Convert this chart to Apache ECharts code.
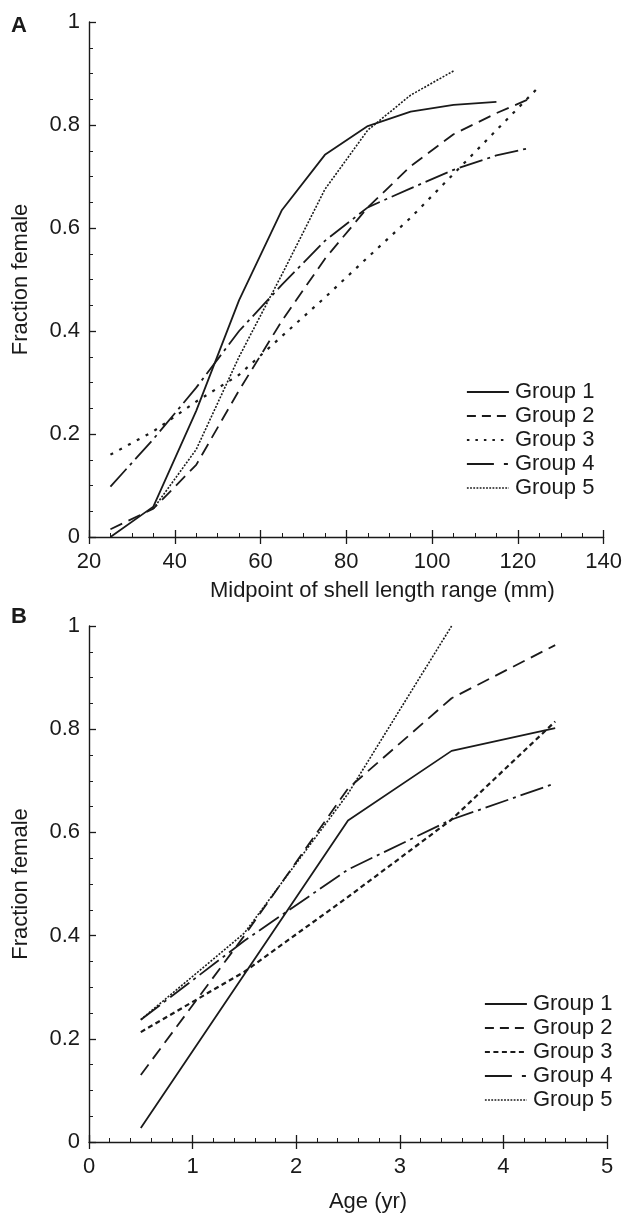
<!DOCTYPE html>
<html>
<head>
<meta charset="utf-8">
<script src="https://cdn.jsdelivr.net/npm/echarts@6/dist/echarts.min.js"></script>
<style>html,body{margin:0;padding:0;background:#fff;}#c{width:625px;height:1214px;}</style>
</head>
<body>
<div id="c"></div>
<script>
// ---------- Data ----------
const groupNames = ['Group 1', 'Group 2', 'Group 3', 'Group 4', 'Group 5'];

// Panel A: fraction female vs midpoint of shell length range (mm)
const a_g1_x = [25, 35, 45, 55, 65, 75, 85, 95, 105, 115];
const a_g1_y = [0.0, 0.059, 0.245, 0.46, 0.635, 0.742, 0.798, 0.826, 0.839, 0.845];
const a_g2_x = [25, 35, 45, 55, 65, 75, 85, 95, 105, 115, 122.5];
const a_g2_y = [0.015, 0.055, 0.14, 0.285, 0.42, 0.54, 0.64, 0.72, 0.782, 0.823, 0.85];
const a_g3_x = [25, 35, 45, 55, 65, 75, 85, 95, 105, 115, 125];
const a_g3_y = [0.16, 0.205, 0.263, 0.315, 0.39, 0.465, 0.543, 0.62, 0.705, 0.79, 0.875];
const a_g4_x = [25, 35, 45, 55, 65, 75, 85, 95, 105, 115, 122.5];
const a_g4_y = [0.098, 0.19, 0.29, 0.40, 0.49, 0.575, 0.64, 0.677, 0.713, 0.741, 0.755];
const a_g5_x = [35, 45, 55, 65, 75, 85, 95, 105];
const a_g5_y = [0.055, 0.17, 0.35, 0.51, 0.675, 0.79, 0.858, 0.905];

// Panel B: fraction female vs age (yr)
const b_age = [0.5, 1.5, 2.5, 3.5, 4.5];
const b_g1_y = [0.027, 0.325, 0.623, 0.758, 0.802];
const b_g2_y = [0.13, 0.40, 0.685, 0.86, 0.963];
const b_g3_y = [0.213, 0.33, 0.475, 0.625, 0.815];
const b_g4_y = [0.237, 0.39, 0.528, 0.625, 0.695];
const b_g5_x = [0.5, 1.5, 2.5, 3.5];
const b_g5_y = [0.237, 0.405, 0.675, 1.0];

// Axis tick settings
const yTicks = { min: 0, max: 1, interval: 0.2 };
const xTicksA = { min: 20, max: 140, interval: 20 };
const xTicksB = { min: 0, max: 5, interval: 1 };

// ---------- Styles ----------
const FONT = "'Liberation Sans', Arial, Helvetica, sans-serif";
const INK = '#1a1a1a';
const dashA = ['solid', [13, 7], [3, 7], [24, 5, 3, 5], [2, 1.5]];
const dashB = ['solid', [13, 7], [5, 3.5], [24, 5, 3, 5], [2, 1.5]];
const widths = [1.8, 1.8, 2.2, 1.8, 1.6];
const legendDashA = ['solid', [9, 6], [2.5, 6], [27, 10, 4, 10], [1.8, 1.4]];
const legendDashB = ['solid', [9, 6], [5, 3.5], [27, 10, 4, 10], [1.8, 1.4]];

const zip = (xs, ys) => xs.map((x, i) => [x, ys[i]]);
const seriesA = [zip(a_g1_x, a_g1_y), zip(a_g2_x, a_g2_y), zip(a_g3_x, a_g3_y), zip(a_g4_x, a_g4_y), zip(a_g5_x, a_g5_y)];
const seriesB = [zip(b_age, b_g1_y), zip(b_age, b_g2_y), zip(b_age, b_g3_y), zip(b_age, b_g4_y), zip(b_g5_x, b_g5_y)];

function mkSeries(datasets, dashes, xIdx, yIdx) {
  return datasets.map((d, i) => ({
    type: 'line', name: groupNames[i], data: d,
    xAxisIndex: xIdx, yAxisIndex: yIdx,
    symbol: 'none', silent: true,
    lineStyle: { color: INK, width: widths[i], type: dashes[i] }
  }));
}

function mkX(grid, t, name, gap, pad) {
  return [{
    type: 'value', gridIndex: grid, min: t.min, max: t.max, interval: t.interval,
    position: 'bottom',
    axisLine: { show: true, lineStyle: { color: INK, width: 1.4 } },
    axisTick: { show: true, inside: true, length: 7, lineStyle: { color: INK, width: 1.3 } },
    minorTick: { show: true, splitNumber: grid === 0 ? 4 : 5, length: 4, lineStyle: { color: INK, width: 1 } },
    splitLine: { show: false }, minorSplitLine: { show: false },
    axisLabel: { color: INK, fontSize: 22, fontFamily: FONT, margin: 14 },
    name: name, nameLocation: 'middle', nameGap: gap,
    nameTextStyle: { color: INK, fontSize: 22, fontFamily: FONT, padding: pad }
  }, {
    type: 'value', gridIndex: grid, min: t.min, max: t.max, interval: t.interval,
    position: 'bottom',
    axisLine: { show: false },
    axisTick: { show: true, inside: false, length: 7, lineStyle: { color: INK, width: 1.3 } },
    axisLabel: { show: false }, splitLine: { show: false }
  }];
}

function mkY(grid) {
  return {
    type: 'value', gridIndex: grid, min: yTicks.min, max: yTicks.max, interval: yTicks.interval,
    axisLine: { show: true, lineStyle: { color: INK, width: 1.4 } },
    axisTick: { show: true, inside: true, length: 7, lineStyle: { color: INK, width: 1.3 } },
    minorTick: { show: true, splitNumber: 4, length: 4, lineStyle: { color: INK, width: 1 } },
    splitLine: { show: false }, minorSplitLine: { show: false },
    axisLabel: { color: INK, fontSize: 22, fontFamily: FONT, margin: 9 },
    name: 'Fraction female', nameLocation: 'middle', nameGap: 57,
    nameTextStyle: { color: INK, fontSize: 22, fontFamily: FONT }
  };
}

function mkLegend(left, top, dashes) {
  return {
    orient: 'vertical', left: left, top: top, padding: 0,
    itemWidth: 42, itemHeight: 14, itemGap: 2,
    selectedMode: false,
    textStyle: { color: INK, fontSize: 22, fontFamily: FONT, lineHeight: 22, padding: [0, 0, 0, 1] },
    data: groupNames.map((n, i) => ({
      name: n,
      lineStyle: { color: INK, width: i === 4 ? 1.6 : 1.8, type: dashes[i] },
      itemStyle: { opacity: 0 }
    }))
  };
}

const chart = echarts.init(document.getElementById('c'), null, { renderer: 'canvas' });
const xA = mkX(0, xTicksA, 'Midpoint of shell length range (mm)', 43, [0, 0, 0, 72]);
const xB = mkX(1, xTicksB, 'Age (yr)', 49, [0, 0, 0, 40]);
chart.setOption({
  animation: false,
  backgroundColor: '#fff',
  grid: [
    { left: 89, top: 22, width: 518, height: 515 },
    { left: 89, top: 626, width: 518, height: 516 }
  ],
  xAxis: [xA[0], xA[1], xB[0], xB[1]],
  yAxis: [mkY(0), mkY(1)],
  legend: [mkLegend(466, 381, legendDashA), mkLegend(484, 993, legendDashB)],
  series: [].concat(mkSeries(seriesA, dashA, 0, 0), mkSeries(seriesB, dashB, 2, 1)),
  graphic: [
    { type: 'text', left: 11, top: 15, style: { text: 'A', fontSize: 22, fontWeight: 'bold', fontFamily: FONT, fill: INK } },
    { type: 'text', left: 11, top: 606, style: { text: 'B', fontSize: 22, fontWeight: 'bold', fontFamily: FONT, fill: INK } }
  ]
});
</script>
</body>
</html>
